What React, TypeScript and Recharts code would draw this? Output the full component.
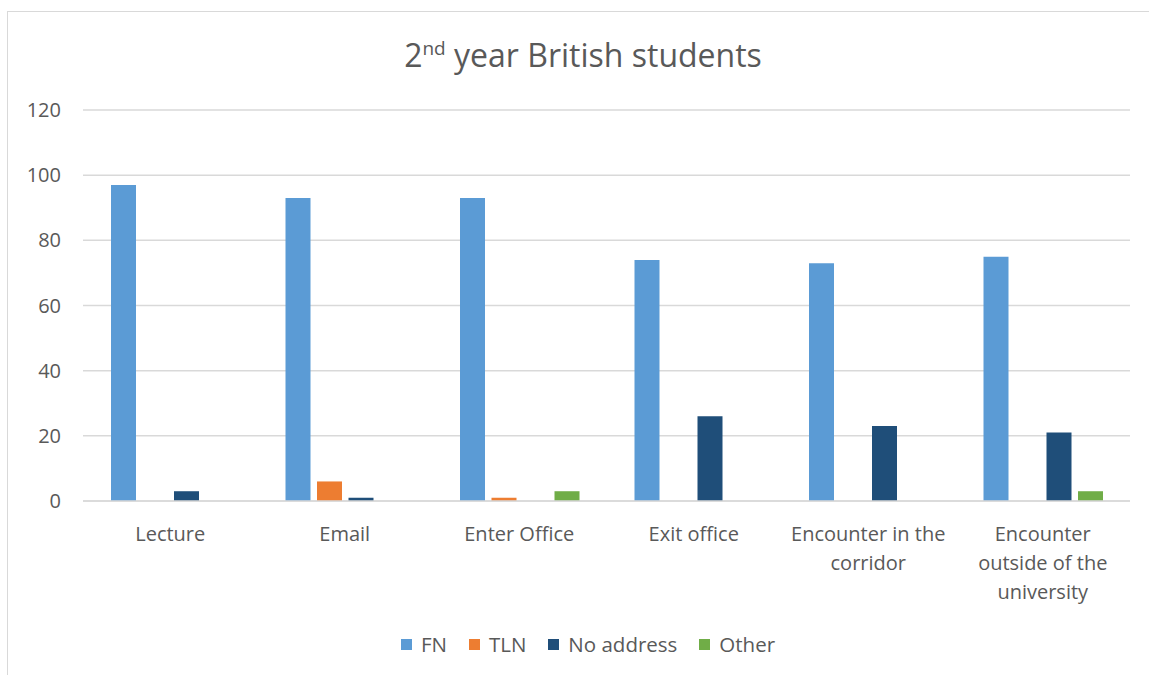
import React from 'react';
import { BarChart, Bar, XAxis, YAxis, CartesianGrid, Legend } from 'recharts';

const categories = [
    'Lecture',
    'Email',
    'Enter Office',
    'Exit office',
    'Encounter in the corridor',
    'Encounter outside of the university',
];
const fnValues = [97, 93, 93, 74, 73, 75];
const tlnValues = [0, 6, 1, 0, 0, 0];
const noAddressValues = [3, 1, 0, 26, 23, 21];
const otherValues = [0, 0, 3, 0, 0, 3];
const yTicks = [0, 20, 40, 60, 80, 100, 120];

const SERIES = [
    { key: 'FN', color: '#5B9BD5' },
    { key: 'TLN', color: '#ED7D31' },
    { key: 'No address', color: '#1F4E79' },
    { key: 'Other', color: '#70AD47' },
];

const data = categories.map((name, i) => ({
    name,
    FN: fnValues[i],
    TLN: tlnValues[i],
    'No address': noAddressValues[i],
    Other: otherValues[i],
}));

const FONT = '"Open Sans", sans-serif';
const TEXT = '#595959';
const GRID = '#D9D9D9';

// wrap a label into lines of at most maxChars characters
const wrap = (label: string, maxChars: number) => {
    const lines: string[] = [];
    let cur = '';
    label.split(' ').forEach((w) => {
        const next = cur ? cur + ' ' + w : w;
        if (next.length > maxChars && cur) {
            lines.push(cur);
            cur = w;
        } else {
            cur = next;
        }
    });
    if (cur) lines.push(cur);
    return lines;
};

const CategoryTick = (props: any) => {
    const { x, y, payload } = props;
    const lines = wrap(payload.value, 16);
    return (
        <text x={x} y={y} textAnchor="middle" fill={TEXT} fontSize={20} fontFamily={FONT}>
            {lines.map((line, i) => (
                <tspan key={i} x={x} y={y + 38 + i * 29}>
                    {line}
                </tspan>
            ))}
        </text>
    );
};

const LegendRow = () => (
    <div
        style={{
            display: 'flex',
            justifyContent: 'center',
            alignItems: 'center',
            fontFamily: FONT,
            fontSize: 20.5,
            color: TEXT,
            paddingLeft: 27,
        }}
    >
        {SERIES.map((s, i) => (
            <div
                key={s.key}
                style={{ display: 'flex', alignItems: 'center', marginRight: i === SERIES.length - 1 ? 0 : 22 }}
            >
                <span style={{ width: 11, height: 11, background: s.color, marginRight: 9 }} />
                <span>{s.key}</span>
            </div>
        ))}
    </div>
);

const App = () => {
    return (
        <div
            style={{
                position: 'absolute',
                left: 0,
                top: 0,
                width: 1149,
                height: 675,
                overflow: 'hidden',
                background: '#fff',
            }}
        >
            <div
                style={{
                    position: 'absolute',
                    left: 7,
                    top: 11,
                    width: 1180,
                    height: 700,
                    border: `1px solid ${GRID}`,
                }}
            />
            <div
                style={{
                    position: 'absolute',
                    top: 33,
                    left: 0,
                    width: 1166,
                    textAlign: 'center',
                    fontFamily: FONT,
                    fontSize: 32,
                    color: TEXT,
                }}
            >
                2<sup style={{ fontSize: 19, verticalAlign: 'top', position: 'relative', top: 2 }}>nd</sup> year British students
            </div>
            <div style={{ position: 'absolute', left: 0, top: 0 }}>
                <BarChart
                    width={1149}
                    height={675}
                    data={data}
                    margin={{ top: 110, right: 19, bottom: 26, left: 0 }}
                    barSize={25}
                    barGap={6.5}
                >
                    <CartesianGrid vertical={false} stroke={GRID} strokeWidth={1.5} />
                    <XAxis
                        dataKey="name"
                        height={120}
                        tickLine={false}
                        tickSize={0}
                        axisLine={{ stroke: GRID, strokeWidth: 1.5 }}
                        tick={<CategoryTick />}
                        interval={0}
                    />
                    <YAxis
                        width={83}
                        domain={[0, 120]}
                        ticks={yTicks}
                        axisLine={false}
                        tickLine={false}
                        tickSize={0}
                        tickMargin={22}
                        tick={{ fill: TEXT, fontSize: 20, fontFamily: FONT }}
                    />
                    <Legend
                        layout="vertical"
                        align="center"
                        content={<LegendRow />}
                        wrapperStyle={{ top: 630, left: 0, width: 1149 }}
                    />
                    {SERIES.map((s) => (
                        <Bar key={s.key} dataKey={s.key} fill={s.color} isAnimationActive={false} />
                    ))}
                </BarChart>
            </div>
        </div>
    );
};

export default App;
